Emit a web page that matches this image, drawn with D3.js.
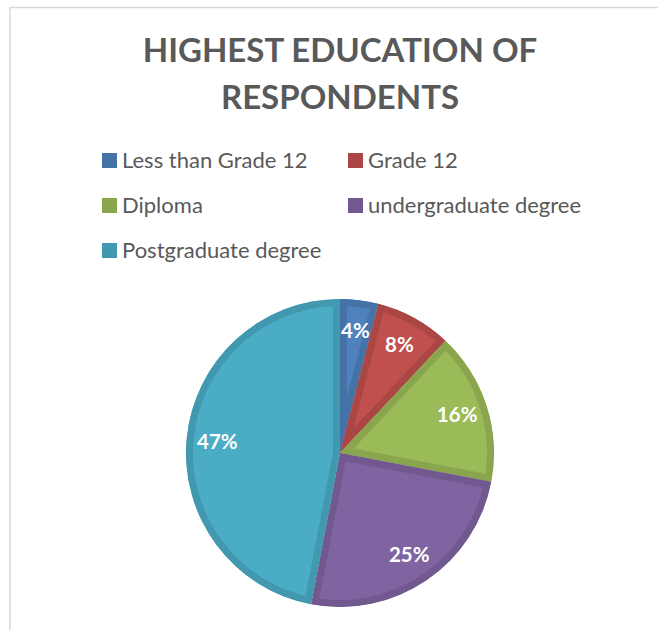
<!DOCTYPE html>
<html>
<head>
<meta charset="utf-8">
<script src="https://cdn.jsdelivr.net/npm/d3@7"></script>
<style>
  html, body { margin: 0; padding: 0; background: #ffffff; }
  svg { display: block; }
</style>
</head>
<body>
<svg id="chart" width="658" height="630"></svg>
<script>
// Highest education of respondents
const categories = ["Less than Grade 12", "Grade 12", "Diploma", "undergraduate degree", "Postgraduate degree"];
const shares = [4, 8, 16, 25, 47];
const fillColors = ["#4F81BD", "#C0504D", "#9BBB59", "#8064A2", "#4BACC6"];
const edgeColors = ["#4572A7", "#AA4643", "#89A54E", "#71588F", "#4198AF"];
const titleLines = ["HIGHEST EDUCATION OF", "RESPONDENTS"];

const svg = d3.select("#chart");
const W = 658, H = 630;
const font = "Lato, 'Open Sans', sans-serif";
const textGray = "#595959";

// chart area frame (runs off the right and bottom edges)
svg.append("rect")
  .attr("x", 10).attr("y", 7.5)
  .attr("width", W + 20).attr("height", H + 20)
  .attr("fill", "#ffffff")
  .attr("stroke", "#d9d9d9").attr("stroke-width", 1.5);

// title
svg.append("g").selectAll("text")
  .data(titleLines)
  .join("text")
  .attr("x", 340)
  .attr("y", (d, i) => 62 + i * 47)
  .attr("text-anchor", "middle")
  .attr("font-family", font)
  .attr("font-weight", "bold")
  .attr("font-size", 33)
  .attr("fill", textGray)
  .text(d => d);

// legend: two columns, three rows
const color = d3.scaleOrdinal().domain(categories).range(fillColors);
const edge = d3.scaleOrdinal().domain(categories).range(edgeColors);
const colX = [102, 348];
const rowY = [153, 198, 243];
const items = svg.append("g").selectAll("g")
  .data(categories)
  .join("g")
  .attr("transform", (d, i) => `translate(${colX[i % 2]},${rowY[Math.floor(i / 2)]})`);
items.append("rect")
  .attr("width", 15).attr("height", 15)
  .attr("fill", d => edge(d));
items.append("text")
  .attr("x", 20).attr("y", 15)
  .attr("font-family", font)
  .attr("font-size", 22)
  .attr("fill", textGray)
  .text(d => d);

// pie, starting at twelve o'clock and running clockwise
const cx = 340, cy = 453, R = 154;
const pie = d3.pie().sort(null).value(d => d.value);
const arcs = pie(categories.map((c, i) => ({ name: c, value: shares[i] })));
const arc = d3.arc().innerRadius(0).outerRadius(R);
const labelArc = d3.arc().innerRadius(R * 0.8).outerRadius(R * 0.8);

// each slice is clipped to itself so its darker edge band sits inside it
const defs = svg.append("defs");
defs.selectAll("clipPath")
  .data(arcs)
  .join("clipPath")
  .attr("id", (d, i) => "slice-clip-" + i)
  .append("path")
  .attr("transform", `translate(${cx},${cy})`)
  .attr("d", arc);

const sliceGroups = svg.append("g").selectAll("g")
  .data(arcs)
  .join("g")
  .attr("clip-path", (d, i) => `url(#slice-clip-${i})`);
sliceGroups.append("path")
  .attr("transform", `translate(${cx},${cy})`)
  .attr("d", arc)
  .attr("fill", d => color(d.data.name))
  .attr("stroke", d => edge(d.data.name))
  .attr("stroke-width", 14)
  .attr("stroke-linejoin", "miter");

// percentage labels
svg.append("g")
  .attr("transform", `translate(${cx},${cy})`)
  .selectAll("text")
  .data(arcs)
  .join("text")
  .attr("transform", d => `translate(${labelArc.centroid(d)})`)
  .attr("text-anchor", "middle")
  .attr("dy", "0.35em")
  .attr("font-family", font)
  .attr("font-weight", "bold")
  .attr("font-size", 20.5)
  .attr("fill", "#ffffff")
  .text(d => d.data.value + "%");
</script>
</body>
</html>
